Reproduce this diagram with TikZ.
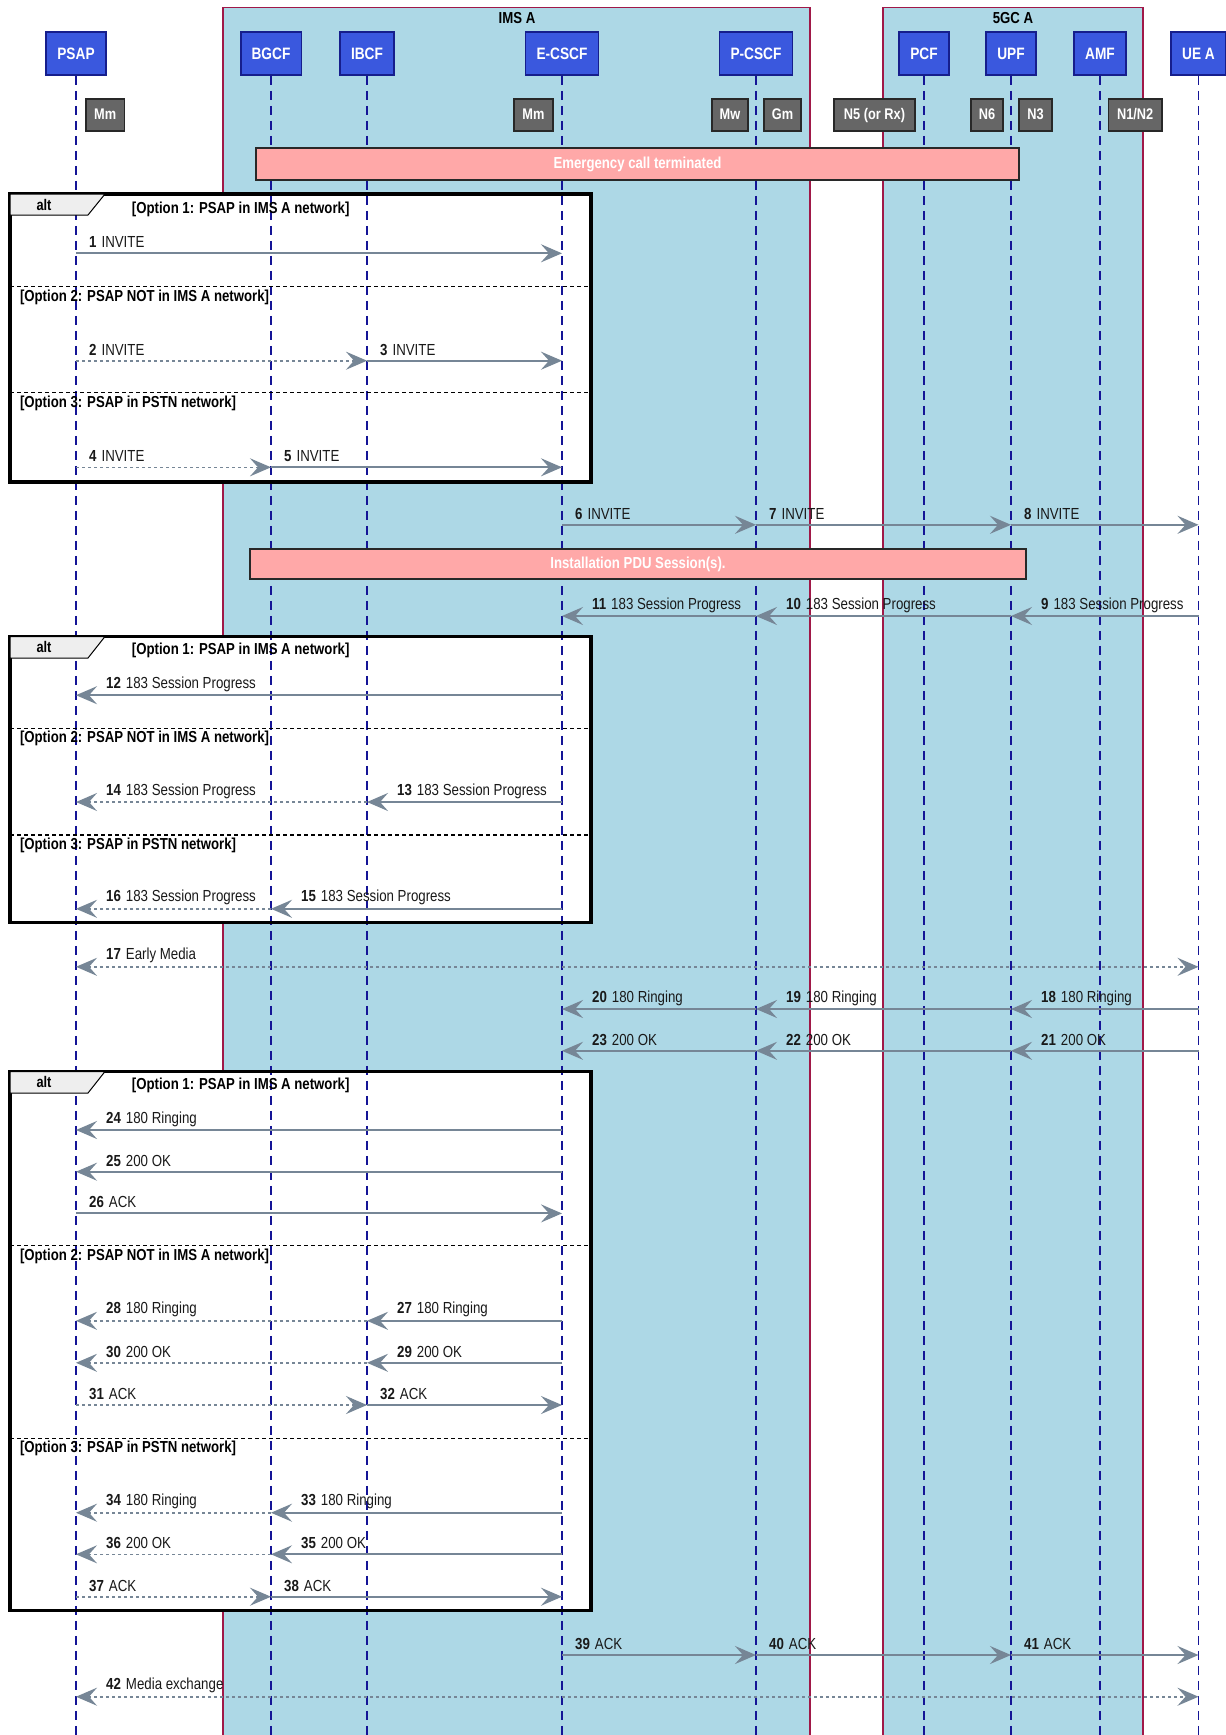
\documentclass[tikz,border=0pt]{standalone}
\usepackage{fontspec}
\setmainfont{Liberation Sans}[FakeStretch=0.83]
\usetikzlibrary{arrows.meta}
\definecolor{grpfill}{RGB}{173,216,230}
\definecolor{grpborder}{RGB}{160,24,72}
\definecolor{hdrfill}{RGB}{58,88,222}
\definecolor{hdrborder}{RGB}{22,30,140}
\definecolor{ibxfill}{RGB}{102,102,102}
\definecolor{ibxborder}{RGB}{40,40,40}
\definecolor{barfill}{RGB}{255,168,168}
\definecolor{barborder}{RGB}{40,40,40}
\definecolor{lifecol}{RGB}{20,20,150}
\definecolor{arrgrey}{RGB}{118,134,150}
\definecolor{txtcol}{RGB}{25,25,25}
\definecolor{tabfill}{RGB}{238,238,238}

\tikzset{
  mytip/.tip={Stealth[length=21pt,width=18pt,inset=8pt]},
  hdr/.style={draw=hdrborder, line width=1.8pt, fill=hdrfill, text=white, font=\fontsize{16.5}{19}\selectfont\bfseries, minimum height=43pt, inner xsep=11pt},
  ibx/.style={draw=ibxborder, line width=1.2pt, fill=ibxfill, text=white, font=\fontsize{15.4}{18}\selectfont\bfseries, minimum height=32pt, inner sep=0pt, text height=11pt, text depth=3pt},
  barbox/.style={draw=barborder, line width=1.2pt, fill=barfill, text=white, font=\fontsize{15.9}{19}\selectfont\bfseries, inner sep=0pt},
  life/.style={draw=lifecol, line width=1.6pt, dash pattern=on 9pt off 6pt},
  grp/.style={draw=grpborder, line width=1.6pt, fill=grpfill},
  grplbl/.style={inner sep=0pt, font=\fontsize{15.9}{19}\selectfont\bfseries, text=black},
  lbl/.style={anchor=west, inner sep=0pt, text=txtcol, font=\fontsize{16}{19}\selectfont},
  opt/.style={anchor=west, inner sep=0pt, text=black, font=\fontsize{15.9}{19}\selectfont\bfseries},
  altbox/.style={draw=black, line width=3.5pt},
  altsep/.style={draw=black, line width=1.3pt, dash pattern=on 4pt off 3pt},
  alttab/.style={draw=black, line width=1pt, fill=tabfill},
  sol/.style={draw=arrgrey, line width=2pt, -mytip},
  dsh/.style={draw=arrgrey, line width=1.6pt, dash pattern=on 3pt off 3pt, -mytip},
  bidi/.style={draw=arrgrey, line width=1.6pt, dash pattern=on 3pt off 3pt, mytip-mytip},
}

% right-going message: from, to, y, number, text, style
\newcommand\mR[6]{%
  \draw[#6] (#1 |- 0,#3) -- (#2 |- 0,#3);
  \path (#1 |- 0,#3) node[lbl, xshift=13pt, yshift=11pt] (m#4) {\textbf{#4}\hspace{5pt}#5};}
% left-going message: from, to, y, number, text, style
\newcommand\mL[6]{%
  \draw[#6] (#1 |- 0,#3) -- (#2 |- 0,#3);
  \path (#2 |- 0,#3) node[lbl, xshift=30pt, yshift=11pt] (m#4) {\textbf{#4}\hspace{5pt}#5};}
% alt frame: name, top, tab bottom, bottom, sep1, sep2
\newcommand\altframe[6]{%
  \draw[altbox] (10,#2) rectangle (591,#4);
  \draw[alttab] (10,#2) -- (105,#2) -- (88,#3) -- (10,#3) -- cycle;
  \node[inner sep=0pt, font=\fontsize{15.4}{18}\selectfont\bfseries] (#1tab) at (44,{(#2+#3)/2}) {alt};
  \draw[altsep] (10,#5) -- (591,#5);
  \draw[altsep] (10,#6) -- (591,#6);}

\begin{document}
\begin{tikzpicture}[x=1pt,y=-1pt]
\fill[white] (0,0) rectangle (1226,1735);
\useasboundingbox (0,0) rectangle (1226,1735);

% groups
\draw[grp] (223,7.5) rectangle (810,1745);
\draw[grp] (883,7.5) rectangle (1143,1745);
\node[grplbl] (imsA) at (517,18.5) {IMS A};
\node[grplbl] (gcA) at (1013,18.5) {5GC A};

% alt frame fills
\fill[white] (10,194) rectangle (591,482);
\fill[white] (10,636.5) rectangle (591,922.7);
\fill[white] (10,1071.5) rectangle (591,1610.7);

% header nodes
\node[hdr] (psap) at (76,53.5) {PSAP};
\node[hdr] (bgcf) at (271,53.5) {BGCF};
\node[hdr] (ibcf) at (367,53.5) {IBCF};
\node[hdr] (ecscf) at (562,53.5) {E-CSCF};
\node[hdr] (pcscf) at (756,53.5) {P-CSCF};
\node[hdr] (pcf) at (924,53.5) {PCF};
\node[hdr] (upf) at (1011,53.5) {UPF};
\node[hdr] (amf) at (1100,53.5) {AMF};
\node[hdr] (uea) at (1198.5,53.5) {UE A};

% lifelines
\foreach \n in {psap,bgcf,ibcf,ecscf,pcscf,pcf,upf,amf,uea}
  \draw[life] (\n.south) -- (\n.south |- 0,1745);

% alt frames
\altframe{altA}{194}{215}{482}{286.7}{392.7}
\node[opt] (altAo1) at (131.7,209) {[Option 1: PSAP in IMS A network]};
\node[opt] (altAo2) at (19.8,297) {[Option 2: PSAP NOT in IMS A network]};
\node[opt] (altAo3) at (19.8,403) {[Option 3: PSAP in PSTN network]};

\altframe{altB}{636.5}{658}{922.7}{728.3}{835}
\node[opt] (altBo1) at (131.7,650.7) {[Option 1: PSAP in IMS A network]};
\node[opt] (altBo2) at (19.8,738.3) {[Option 2: PSAP NOT in IMS A network]};
\node[opt] (altBo3) at (19.8,845.7) {[Option 3: PSAP in PSTN network]};

\altframe{altC}{1071.5}{1093}{1610.7}{1245.7}{1438.3}
\node[opt] (altCo1) at (131.7,1085.7) {[Option 1: PSAP in IMS A network]};
\node[opt] (altCo2) at (19.8,1256.7) {[Option 2: PSAP NOT in IMS A network]};
\node[opt] (altCo3) at (19.8,1448.3) {[Option 3: PSAP in PSTN network]};

% interface boxes
\node[ibx, minimum width=38.5pt] (ifmm1) at (105.2,115) {Mm};
\node[ibx, minimum width=39pt] (ifmm2) at (533.5,115) {Mm};
\node[ibx, minimum width=36pt] (ifmw) at (730,115) {Mw};
\node[ibx, minimum width=37pt] (ifgm) at (782.5,115) {Gm};
\node[ibx, minimum width=81pt] (ifnfive) at (874.5,115) {N5 (or Rx)};
\node[ibx, minimum width=32pt] (ifnsix) at (987,115) {N6};
\node[ibx, minimum width=33pt] (ifnthree) at (1035.5,115) {N3};
\node[ibx, minimum width=53.5pt] (ifnonetwo) at (1135.2,115) {N1/N2};

% bars
\node[barbox, minimum width=763pt, minimum height=32pt] (emerg) at (637.5,164) {Emergency call terminated};

% messages
\mR{psap}{ecscf}{253.3}{1}{INVITE}{sol}
\mR{psap}{ibcf}{360.7}{2}{INVITE}{dsh}
\mR{ibcf}{ecscf}{360.7}{3}{INVITE}{sol}
\mR{psap}{bgcf}{467.3}{4}{INVITE}{dsh}
\mR{bgcf}{ecscf}{467.3}{5}{INVITE}{sol}

\mR{ecscf}{pcscf}{524.8}{6}{INVITE}{sol}
\mR{pcscf}{upf}{524.8}{7}{INVITE}{sol}
\mR{upf}{uea}{524.8}{8}{INVITE}{sol}

\node[barbox, minimum width=776pt, minimum height=30pt] (instal) at (638,564) {Installation PDU Session(s).};

\mL{uea}{upf}{616}{9}{183 Session Progress}{sol}
\mL{upf}{pcscf}{616}{10}{183 Session Progress}{sol}
\mL{pcscf}{ecscf}{616}{11}{183 Session Progress}{sol}

\mL{ecscf}{psap}{695.2}{12}{183 Session Progress}{sol}
\mL{ecscf}{ibcf}{802}{13}{183 Session Progress}{sol}
\mL{ibcf}{psap}{802}{14}{183 Session Progress}{dsh}
\mL{ecscf}{bgcf}{908.8}{15}{183 Session Progress}{sol}
\mL{bgcf}{psap}{908.8}{16}{183 Session Progress}{dsh}

\draw[bidi] (psap |- 0,966.8) -- (uea |- 0,966.8);
\path (psap |- 0,966.8) node[lbl, xshift=30pt, yshift=11pt] (m17) {\textbf{17}\hspace{5pt}Early Media};

\mL{uea}{upf}{1009}{18}{180 Ringing}{sol}
\mL{upf}{pcscf}{1009}{19}{180 Ringing}{sol}
\mL{pcscf}{ecscf}{1009}{20}{180 Ringing}{sol}
\mL{uea}{upf}{1050.8}{21}{200 OK}{sol}
\mL{upf}{pcscf}{1050.8}{22}{200 OK}{sol}
\mL{pcscf}{ecscf}{1050.8}{23}{200 OK}{sol}

\mL{ecscf}{psap}{1130}{24}{180 Ringing}{sol}
\mL{ecscf}{psap}{1171.7}{25}{200 OK}{sol}
\mR{psap}{ecscf}{1213.4}{26}{ACK}{sol}

\mL{ecscf}{ibcf}{1320.8}{27}{180 Ringing}{sol}
\mL{ibcf}{psap}{1320.8}{28}{180 Ringing}{dsh}
\mL{ecscf}{ibcf}{1362.8}{29}{200 OK}{sol}
\mL{ibcf}{psap}{1362.8}{30}{200 OK}{dsh}
\mR{psap}{ibcf}{1405}{31}{ACK}{dsh}
\mR{ibcf}{ecscf}{1405}{32}{ACK}{sol}

\mL{ecscf}{bgcf}{1512.7}{33}{180 Ringing}{sol}
\mL{bgcf}{psap}{1512.7}{34}{180 Ringing}{dsh}
\mL{ecscf}{bgcf}{1554.3}{35}{200 OK}{sol}
\mL{bgcf}{psap}{1554.3}{36}{200 OK}{dsh}
\mR{psap}{bgcf}{1596.7}{37}{ACK}{dsh}
\mR{bgcf}{ecscf}{1596.7}{38}{ACK}{sol}

\mR{ecscf}{pcscf}{1655}{39}{ACK}{sol}
\mR{pcscf}{upf}{1655}{40}{ACK}{sol}
\mR{upf}{uea}{1655}{41}{ACK}{sol}

\draw[bidi] (psap |- 0,1696.7) -- (uea |- 0,1696.7);
\path (psap |- 0,1696.7) node[lbl, xshift=30pt, yshift=11pt] (m42) {\textbf{42}\hspace{5pt}Media exchange};
\end{tikzpicture}
\end{document}
